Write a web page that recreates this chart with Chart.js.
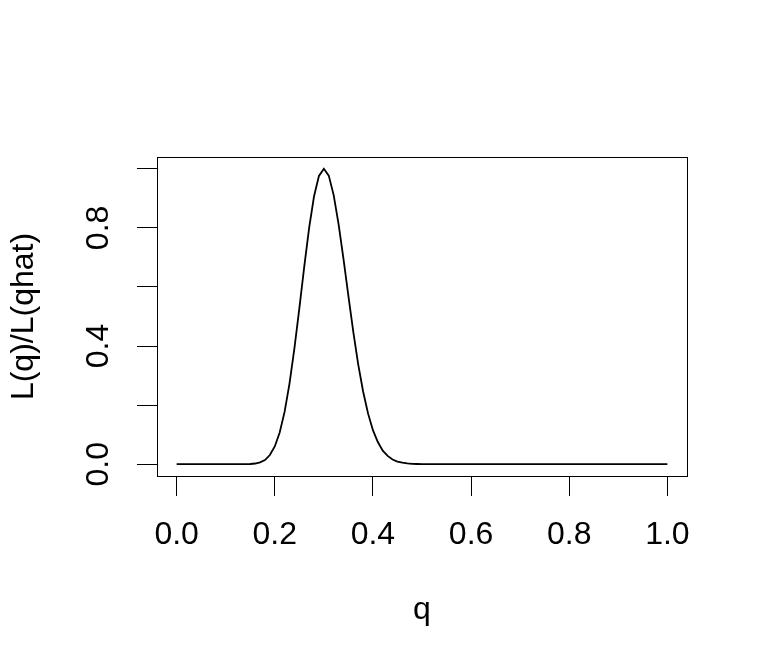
<!DOCTYPE html>
<html>
<head>
<meta charset="utf-8">
<script src="https://cdn.jsdelivr.net/npm/chart.js@4/dist/chart.umd.min.js"></script>
<style>
  html, body { margin: 0; padding: 0; background: #ffffff; }
  canvas { display: block; }
</style>
</head>
<body>
<canvas id="plot" width="768" height="672"></canvas>
<script>
// q grid (0 to 1, step 0.01)
const qValues = [
  0.00, 0.01, 0.02, 0.03, 0.04, 0.05, 0.06, 0.07, 0.08, 0.09,
  0.10, 0.11, 0.12, 0.13, 0.14, 0.15, 0.16, 0.17, 0.18, 0.19,
  0.20, 0.21, 0.22, 0.23, 0.24, 0.25, 0.26, 0.27, 0.28, 0.29,
  0.30, 0.31, 0.32, 0.33, 0.34, 0.35, 0.36, 0.37, 0.38, 0.39,
  0.40, 0.41, 0.42, 0.43, 0.44, 0.45, 0.46, 0.47, 0.48, 0.49,
  0.50, 0.51, 0.52, 0.53, 0.54, 0.55, 0.56, 0.57, 0.58, 0.59,
  0.60, 0.61, 0.62, 0.63, 0.64, 0.65, 0.66, 0.67, 0.68, 0.69,
  0.70, 0.71, 0.72, 0.73, 0.74, 0.75, 0.76, 0.77, 0.78, 0.79,
  0.80, 0.81, 0.82, 0.83, 0.84, 0.85, 0.86, 0.87, 0.88, 0.89,
  0.90, 0.91, 0.92, 0.93, 0.94, 0.95, 0.96, 0.97, 0.98, 0.99,
  1.00
];

// relative likelihood L(q)/L(qhat)
const relLik = [
  0, 0, 0, 0, 0, 0, 0, 0, 0, 0,
  0, 0, 0, 0.0001, 0.0002, 0.0007, 0.0023, 0.006, 0.014, 0.031,
  0.060, 0.107, 0.177, 0.273, 0.392, 0.527, 0.668, 0.800, 0.907, 0.976,
  1.000, 0.977, 0.911, 0.813, 0.695, 0.570, 0.448, 0.338, 0.246, 0.172,
  0.115, 0.075, 0.046, 0.028, 0.016, 0.009, 0.005, 0.0025, 0.0012, 0.0006,
  0.0003, 0, 0, 0, 0, 0, 0, 0, 0, 0,
  0, 0, 0, 0, 0, 0, 0, 0, 0, 0,
  0, 0, 0, 0, 0, 0, 0, 0, 0, 0,
  0, 0, 0, 0, 0, 0, 0, 0, 0, 0,
  0, 0, 0, 0, 0, 0, 0, 0, 0, 0,
  0
];

const xTicks = [0.0, 0.2, 0.4, 0.6, 0.8, 1.0];
const yTicks = [0.0, 0.2, 0.4, 0.6, 0.8, 1.0];
const yLabelled = [0.0, 0.4, 0.8];

const fontFamily = '"Liberation Sans", Arial, Helvetica, sans-serif';

// full box around the plotting region, like R's box()
const boxPlugin = {
  id: 'boxPlugin',
  afterDraw(chart) {
    const a = chart.chartArea;
    const ctx = chart.ctx;
    ctx.save();
    ctx.strokeStyle = '#000000';
    ctx.lineWidth = 1;
    ctx.strokeRect(Math.round(a.left) + 0.5, Math.round(a.top) + 0.5,
      Math.round(a.right - a.left), Math.round(a.bottom - a.top));
    ctx.restore();
  }
};

const points = qValues.map((q, i) => ({ x: q, y: relLik[i] }));

new Chart(document.getElementById('plot'), {
  type: 'line',
  data: {
    datasets: [{
      data: points,
      borderColor: '#000000',
      borderWidth: 1.8,
      pointRadius: 0,
      tension: 0,
      fill: false
    }]
  },
  options: {
    responsive: false,
    animation: false,
    devicePixelRatio: 1,
    layout: { padding: { top: 157, right: 81, left: 0, bottom: 0 } },
    plugins: { legend: { display: false }, tooltip: { enabled: false } },
    scales: {
      x: {
        type: 'linear',
        min: -0.04,
        max: 1.04,
        afterFit(scale) { scale.height = 196; },
        afterBuildTicks(scale) { scale.ticks = xTicks.map(v => ({ value: v })); },
        grid: { display: true, drawOnChartArea: false, drawTicks: true, tickLength: 20, color: '#000000', lineWidth: 1 },
        border: { display: true, color: '#000000', width: 1 },
        ticks: {
          autoSkip: false,
          maxRotation: 0,
          padding: 20,
          color: '#000000',
          font: { family: fontFamily, size: 32 },
          callback: v => v.toFixed(1)
        },
        title: {
          display: true,
          text: 'q',
          color: '#000000',
          font: { family: fontFamily, size: 32 },
          padding: { top: 0, bottom: 43 }
        }
      },
      y: {
        type: 'linear',
        min: -0.04,
        max: 1.04,
        afterFit(scale) { scale.width = 157; },
        afterBuildTicks(scale) { scale.ticks = yTicks.map(v => ({ value: v })); },
        grid: { display: true, drawOnChartArea: false, drawTicks: true, tickLength: 20, color: '#000000', lineWidth: 1 },
        border: { display: true, color: '#000000', width: 1 },
        ticks: {
          autoSkip: false,
          minRotation: 90,
          maxRotation: 90,
          crossAlign: 'center',
          padding: 16,
          color: '#000000',
          font: { family: fontFamily, size: 32 },
          callback: v => (yLabelled.some(t => Math.abs(t - v) < 1e-9) ? v.toFixed(1) : '')
        },
        title: {
          display: true,
          text: 'L(q)/L(qhat)',
          color: '#000000',
          font: { family: fontFamily, size: 32 },
          padding: { top: 5, bottom: 0 }
        }
      }
    }
  },
  plugins: [boxPlugin]
});
</script>
</body>
</html>
